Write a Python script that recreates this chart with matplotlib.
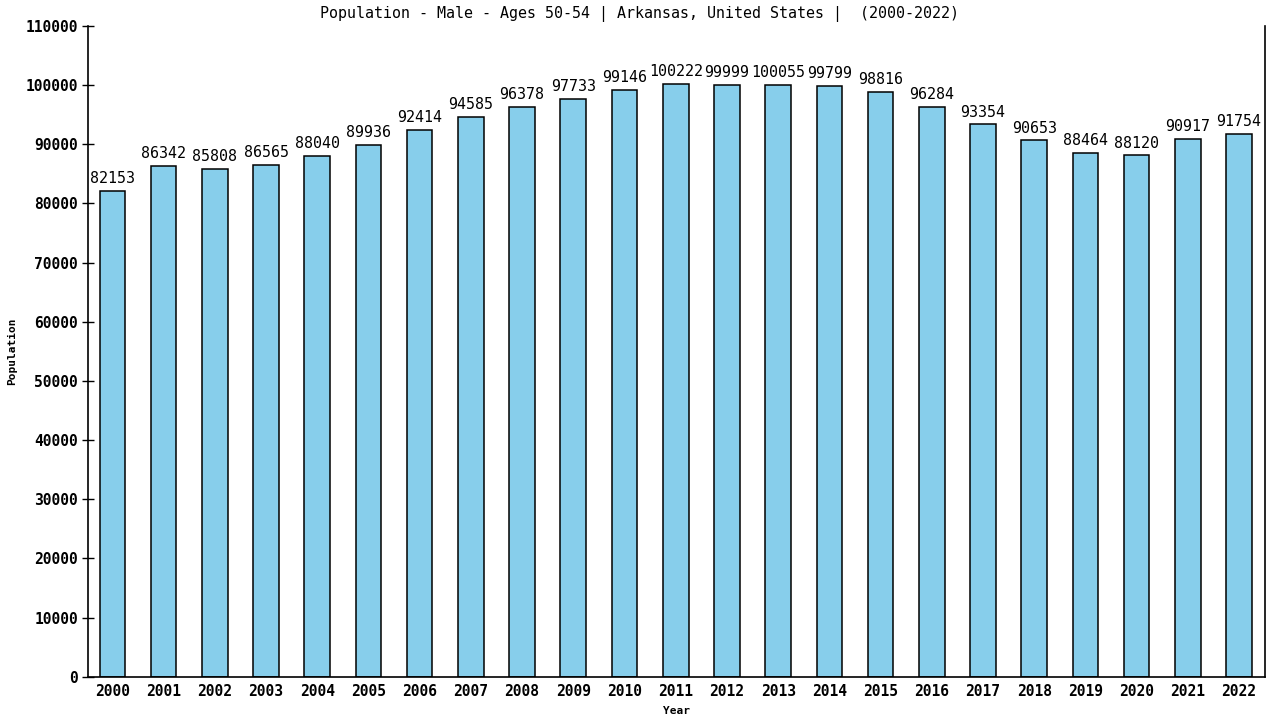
import numpy as np
from matplotlib import pyplot as plt

years = [str(y) for y in range(2000, 2023)]
population = [82153, 86342, 85808, 86565, 88040, 89936, 92414, 94585, 96378, 97733,
              99146, 100222, 99999, 100055, 99799, 98816, 96284, 93354, 90653, 88464,
              88120, 90917, 91754]
yticks = np.arange(0, 110001, 10000)

plt.rcParams['font.family'] = ['DejaVu Sans Mono']

fig = plt.figure(figsize=(12.8, 7.2), dpi=100)
ax = fig.add_axes([0.069, 0.06, 0.919, 0.904])

x = np.arange(len(years))
ax.bar(x, population, width=0.5, color='skyblue', edgecolor='black', linewidth=1.1)
for xi, v in zip(x, population):
    ax.annotate(str(v), (xi, v), xytext=(0, 3.5), textcoords='offset points',
                ha='center', va='bottom', fontsize=10.8)

ax.set_xlim(-0.47, len(years) - 0.5)
ax.set_ylim(0, 110000)
ax.set_xticks(x)
ax.set_xticklabels(years, fontsize=10.5, fontweight='bold')
ax.set_yticks(yticks)
ax.set_yticklabels([str(t) for t in yticks], fontsize=10.5, fontweight='bold')
ax.tick_params(axis='y', direction='inout', length=8, width=1)
ax.tick_params(axis='x', length=0, pad=5)
ax.spines['top'].set_visible(False)
for s in ['left', 'right', 'bottom']:
    ax.spines[s].set_linewidth(1.2)

ax.set_xlabel('Year', fontsize=8, fontweight='bold', labelpad=5)
ax.set_ylabel('Population', fontsize=8, fontweight='bold', labelpad=6)
fig.text(0.5, 0.992, 'Population - Male - Ages 50-54 | Arkansas, United States |  (2000-2022)',
         ha='center', va='top', fontsize=10.8)

fig.savefig('out.png', dpi=100)
